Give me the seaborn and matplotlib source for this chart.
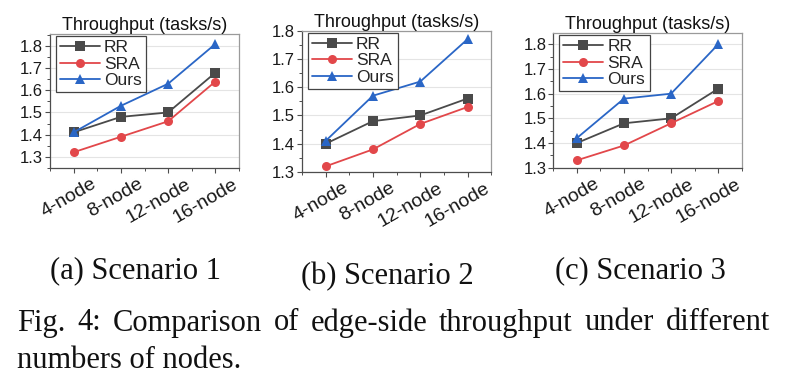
import numpy as np
import pandas as pd
import matplotlib
matplotlib.use("Agg")
import matplotlib.pyplot as plt
import matplotlib.transforms as mtransforms
from matplotlib.ticker import AutoMinorLocator, FixedLocator, MultipleLocator
import seaborn as sns

# ── Data ──────────────────────────────────────────────────────────────────────
nodes = ["4-node", "8-node", "12-node", "16-node"]
methods = ["RR", "SRA", "Ours"]

s1_rr = [1.41, 1.48, 1.50, 1.68]
s1_sra = [1.32, 1.39, 1.46, 1.64]
s1_ours = [1.41, 1.53, 1.63, 1.81]

s2_rr = [1.40, 1.48, 1.50, 1.56]
s2_sra = [1.32, 1.38, 1.47, 1.53]
s2_ours = [1.41, 1.57, 1.62, 1.77]

s3_rr = [1.40, 1.48, 1.50, 1.62]
s3_sra = [1.33, 1.39, 1.48, 1.57]
s3_ours = [1.42, 1.58, 1.60, 1.80]

sub_captions = ["(a) Scenario 1", "(b) Scenario 2", "(c) Scenario 3"]
title = "Throughput (tasks/s)"
caption_1 = "Fig. 4: Comparison of edge-side throughput under different"
caption_2 = "numbers of nodes."

# ── Style ─────────────────────────────────────────────────────────────────────
COLORS = {"RR": "#4a4a4a", "SRA": "#e2474a", "Ours": "#2a66c6"}
MARKERS = {"RR": "s", "SRA": "o", "Ours": "^"}
W, H = 785, 391

sns.set_theme(style="ticks")
plt.rcParams["font.family"] = ["Liberation Sans", "DejaVu Sans"]


def px_axes(fig, left, top, right, bottom):
    return fig.add_axes([left / W, 1 - bottom / H, (right - left) / W, (bottom - top) / H])


def draw_panel(ax, rr, sra, ours, ylim):
    df = pd.DataFrame({
        "node": nodes * 3,
        "value": rr + sra + ours,
        "method": [m for m in methods for _ in nodes],
    })
    for m in methods:
        sub = df[df["method"] == m]
        sns.lineplot(
            data=sub, x="node", y="value", ax=ax, color=COLORS[m],
            marker=MARKERS[m], markersize=6.5, markeredgewidth=0,
            linewidth=1.3, label=m, sort=False,
        )
    ax.set_xlim(-0.5, len(nodes) - 0.5)
    ax.set_ylim(*ylim)
    ax.yaxis.set_major_locator(MultipleLocator(0.1))
    ax.yaxis.set_minor_locator(AutoMinorLocator(2))
    ax.xaxis.set_minor_locator(FixedLocator(np.arange(-0.5, len(nodes), 1.0)))
    ax.set_xlabel("")
    ax.set_ylabel("")
    ax.set_title(title, fontsize=13, pad=3, color="#111111")
    ax.grid(axis="y", which="major", color="#e4e4e4", linewidth=0.8)
    ax.set_axisbelow(True)
    for side in ["left", "bottom"]:
        ax.spines[side].set_color("#4d4d4d")
    for side in ["top", "right"]:
        ax.spines[side].set_color("#9a9a9a")
    for sp in ax.spines.values():
        sp.set_linewidth(0.9)
    ax.tick_params(axis="both", which="major", direction="out", length=3.5,
                   width=0.8, color="#4d4d4d", pad=1.5)
    ax.tick_params(axis="both", which="minor", direction="out", length=2.5,
                   width=0.7, color="#4d4d4d")
    ax.tick_params(axis="y", labelsize=12, labelcolor="#1a1a1a")
    ax.tick_params(axis="x", labelsize=14, labelcolor="#1a1a1a", pad=2)
    shift = mtransforms.ScaledTranslation(0.17, 0, ax.figure.dpi_scale_trans)
    for lab in ax.get_xticklabels():
        lab.set_rotation(30)
        lab.set_ha("right")
        lab.set_va("top")
        lab.set_rotation_mode("anchor")
        lab.set_transform(lab.get_transform() + shift)
    # legend sits ~5px in from the left spine and ~2px below the top spine
    anchor = ax.transAxes + mtransforms.ScaledTranslation(
        0.055, -0.02, ax.figure.dpi_scale_trans)
    leg = ax.legend(
        loc="upper left", bbox_to_anchor=(0, 1), bbox_transform=anchor,
        borderaxespad=0, fontsize=12.5, frameon=True, fancybox=False,
        framealpha=1, edgecolor="#444444", handlelength=2.3,
        handletextpad=0.25, labelspacing=0.06, borderpad=0.25,
    )
    leg.get_frame().set_linewidth(0.9)


fig = plt.figure(figsize=(W / 100, H / 100), dpi=100)
fig.patch.set_facecolor("white")

ax1 = px_axes(fig, 50, 34, 239, 167.7)
ax2 = px_axes(fig, 302, 30.7, 491.2, 172)
ax3 = px_axes(fig, 553.3, 33, 741.7, 167.7)

draw_panel(ax1, s1_rr, s1_sra, s1_ours, (1.25, 1.855))
draw_panel(ax2, s2_rr, s2_sra, s2_ours, (1.3, 1.8))
draw_panel(ax3, s3_rr, s3_sra, s3_ours, (1.3, 1.846))

# ── Captions ──────────────────────────────────────────────────────────────────
serif = ["Liberation Serif", "DejaVu Serif"]
cap_size = 22
sub_pos = [(136, 271), (387, 277), (640, 271)]
for text, (x, y) in zip(sub_captions, sub_pos):
    fig.text(x / W, 1 - y / H, text, ha="center", va="center",
             fontsize=cap_size, family=serif, color="#111111")

# justified first caption line
renderer = fig.canvas.get_renderer()
words = caption_1.split(" ")
x0, x1, y_line = 17, 770, 323
artists = [fig.text(0, 1 - y_line / H, w, ha="left", va="center",
                    fontsize=cap_size, family=serif, color="#111111") for w in words]
widths = [a.get_window_extent(renderer).width for a in artists]
gap = (x1 - x0 - sum(widths)) / (len(words) - 1)
x = x0
for a, w in zip(artists, widths):
    a.set_x(x / W)
    x += w + gap

fig.text(x0 / W, 1 - 361 / H, caption_2, ha="left", va="center",
         fontsize=cap_size, family=serif, color="#111111")

fig.savefig("out.png", dpi=100, facecolor="white")
